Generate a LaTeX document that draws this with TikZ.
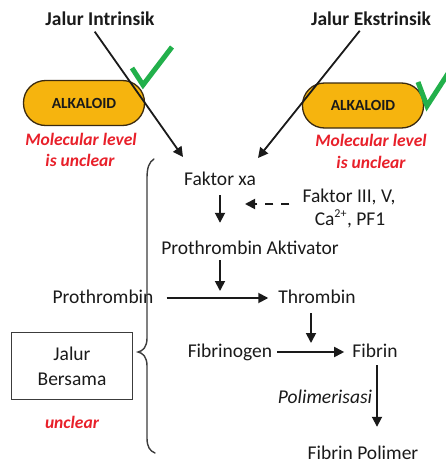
\documentclass[tikz,border=0pt]{standalone}
\usepackage{fontspec}
\setmainfont{Carlito}
\usetikzlibrary{arrows.meta}
\definecolor{alkfill}{HTML}{F6B40E}
\definecolor{alkdraw}{HTML}{3A2A10}
\definecolor{redtxt}{HTML}{E8202A}
\definecolor{chk}{HTML}{22B04B}
\definecolor{ink}{HTML}{1A1A1A}
\begin{document}
\begin{tikzpicture}[x=1pt,y=-1pt,
  lbl/.style={inner sep=0pt,text height=14pt,text depth=4pt,text=ink,font=\fontsize{19.5}{23}\selectfont},
  hdr/.style={inner sep=0pt,text height=14pt,text depth=4pt,text=ink,font=\fontsize{19.5}{23}\selectfont\bfseries},
  redlbl/.style={inner sep=0pt,text=redtxt,font=\fontsize{17.5}{22}\selectfont\bfseries\itshape},
  alk/.style={draw=alkdraw,line width=1.3pt,fill=alkfill,rounded corners=22pt,minimum width=121pt,minimum height=45pt,inner sep=0pt,font=\fontsize{15.5}{18}\selectfont\bfseries,text=ink},
  arr/.style={draw=ink,line width=1.8pt,-{Triangle[length=10pt,width=10pt]}},
  chkline/.style={draw=chk,line width=5pt,line join=miter},
  bracebox/.style={draw=ink!85,line width=1.4pt,minimum width=121pt,minimum height=67pt,inner sep=0pt,align=center,text=ink,font=\fontsize{19.5}{25}\selectfont}
]
\useasboundingbox (0,0) rectangle (446,463);
\clip (0,0) rectangle (446,463);

% headers
\node[hdr] (ji) at (100,20) {Jalur Intrinsik};
\node[hdr] (je) at (371,20) {Jalur Ekstrinsik};

% alkaloid boxes
\node[alk] (al1) at (84,103) {ALKALOID};
\node[alk] (al2) at (363,105.5) {ALKALOID};

\node[redlbl,anchor=base] (ml1) at (81,145) {Molecular level};
\node[redlbl,anchor=base] (uc1) at (80,166) {is unclear};
\node[redlbl,anchor=base] (ml2) at (371,146) {Molecular level};
\node[redlbl,anchor=base] (uc2) at (371,168) {is unclear};

% main chain
\node[lbl,anchor=base] (fx) at (220,185) {Faktor xa};
\node[lbl,anchor=base] (f3a) at (349,202) {Faktor III, V,};
\node[lbl,anchor=base] (f3b) at (350,225) {Ca\textsuperscript{\fontsize{12}{12}\selectfont 2+}, PF1};
\node[lbl,anchor=base] (pa) at (250,254) {Prothrombin Aktivator};
\node[lbl,anchor=base] (pr) at (103,303) {Prothrombin};
\node[lbl,anchor=base] (th) at (317,303) {Thrombin};
\node[lbl,anchor=base] (fg) at (230,357) {Fibrinogen};
\node[lbl,anchor=base] (fb) at (375,357) {Fibrin};
\node[lbl,anchor=base,font=\fontsize{19.5}{23}\selectfont\itshape] (po) at (325,403) {Polimerisasi};
\node[lbl,anchor=base] (fp) at (363,459) {Fibrin Polimer};

% Jalur Bersama
\node[bracebox] (jb) at (72,366) {Jalur\\Bersama};
\node[redlbl,anchor=base] (uc3) at (72,428) {unclear};

% free ends of the pathway arrows
\coordinate (ti) at (183,157);
\coordinate (te) at (258,158);

% arrows
\draw[arr,shorten <=3pt] ([xshift=-7pt]ji.south) -- (ti);
\draw[arr,shorten <=2pt] ([xshift=-10pt]je.south) -- (te);
\draw[arr,shorten <=6pt,shorten >=17pt] (fx.south) -- (fx.south |- pa.north);
\draw[arr,dash pattern=on 8pt off 8pt,shorten <=13pt,shorten >=25pt] ([yshift=-7pt]f3a.west) -- ([yshift=-7pt]f3a.west -| fx.south);
\draw[arr,shorten <=2pt,shorten >=7pt] (pa.south -| fx.south) -- (pr.east -| fx.south);
\draw[arr,shorten <=13pt,shorten >=10pt] (pr.east) -- (th.west);
\draw[arr,shorten <=6pt,shorten >=9pt] ([xshift=-6pt]th.south) -- ([xshift=-6pt]th.south |- fg.east);
\draw[arr,shorten <=5pt,shorten >=8pt] (fg.east) -- (fb.west);
\draw[arr,shorten <=4pt,shorten >=18pt] ([xshift=2pt]fb.south) -- ([xshift=2pt]fb.south |- fp.north);

% check marks
\draw[chkline] (132,68) -- (143,85) -- (172,47);
\draw[chkline] (418,82) -- (427,106) -- (460,55);

% brace
\draw[ink!85,line width=1.4pt,line cap=round]
  (154,159) .. controls (149,162) and (147,168) .. (147,178)
  -- (147,338) .. controls (147,347) and (143,351) .. (138,352)
  .. controls (143,353) and (147,357) .. (147,366)
  -- (147,438) .. controls (147,447) and (150,451) .. (155,453);
\end{tikzpicture}
\end{document}
